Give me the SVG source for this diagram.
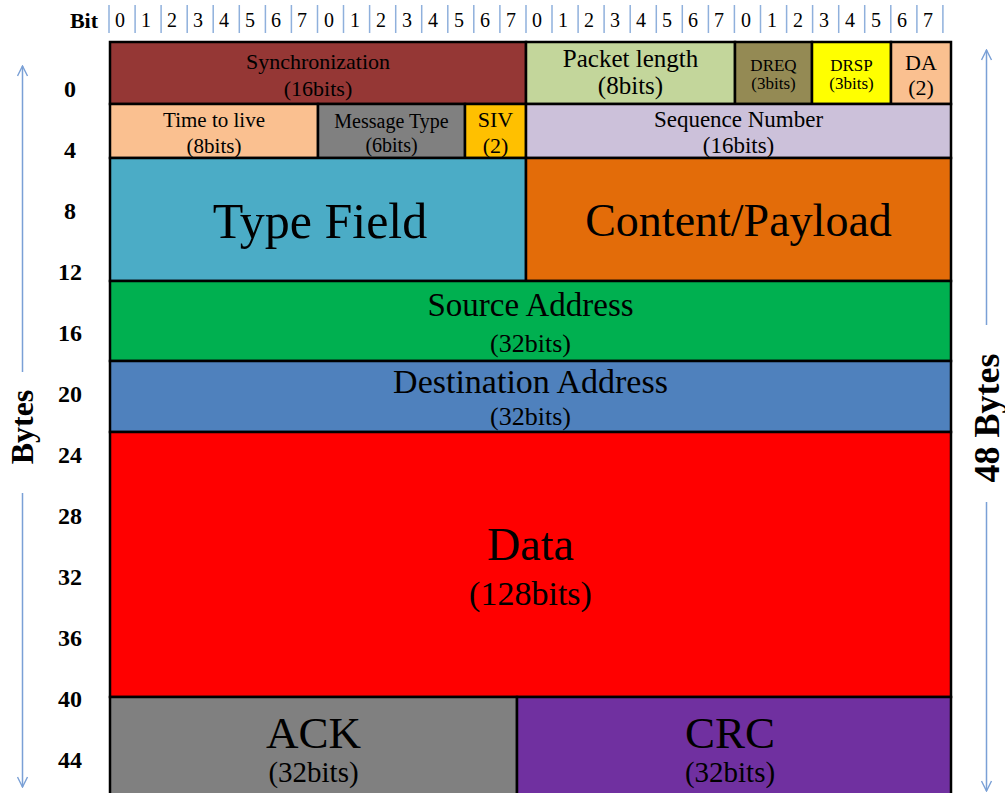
<svg xmlns="http://www.w3.org/2000/svg" width="1005" height="793" viewBox="0 0 1005 793">
  <defs>
    <marker id="arrowOpen" viewBox="0 0 12 12" refX="11" refY="6" markerWidth="12" markerHeight="12" markerUnits="userSpaceOnUse" orient="auto">
      <path d="M1,1 L11,6 L1,11" fill="none" stroke="#7aa0d6" stroke-width="1.4"/>
    </marker>
    <style>
      text { font-family: "Liberation Serif", "Times New Roman", serif; fill: #000; text-anchor: middle; }
      .hdr { font-weight: bold; }
      .bitnum { font-size: 20px; }
      .tick { stroke: #8fb0dc; stroke-width: 1.5; }
      .field { stroke: #000; stroke-width: 2.5; }
      .axis { stroke: #7aa0d6; stroke-width: 1.5; fill: none; marker-end: url(#arrowOpen); }
    </style>
  </defs>

  <rect width="1005" height="793" fill="#fff"/>

  <!-- bit ruler across the top -->
  <g id="bit-ruler">
    <text class="hdr" x="84" y="28" font-size="22">Bit</text>
    <g id="bit-ticks">
      <line class="tick" x1="109" y1="5" x2="109" y2="33"/>
      <line class="tick" x1="135.1" y1="5" x2="135.1" y2="33"/>
      <line class="tick" x1="161.1" y1="5" x2="161.1" y2="33"/>
      <line class="tick" x1="187.2" y1="5" x2="187.2" y2="33"/>
      <line class="tick" x1="213.2" y1="5" x2="213.2" y2="33"/>
      <line class="tick" x1="239.3" y1="5" x2="239.3" y2="33"/>
      <line class="tick" x1="265.4" y1="5" x2="265.4" y2="33"/>
      <line class="tick" x1="291.4" y1="5" x2="291.4" y2="33"/>
      <line class="tick" x1="317.5" y1="5" x2="317.5" y2="33"/>
      <line class="tick" x1="343.5" y1="5" x2="343.5" y2="33"/>
      <line class="tick" x1="369.6" y1="5" x2="369.6" y2="33"/>
      <line class="tick" x1="395.7" y1="5" x2="395.7" y2="33"/>
      <line class="tick" x1="421.7" y1="5" x2="421.7" y2="33"/>
      <line class="tick" x1="447.8" y1="5" x2="447.8" y2="33"/>
      <line class="tick" x1="473.8" y1="5" x2="473.8" y2="33"/>
      <line class="tick" x1="499.9" y1="5" x2="499.9" y2="33"/>
      <line class="tick" x1="526" y1="5" x2="526" y2="33"/>
      <line class="tick" x1="552" y1="5" x2="552" y2="33"/>
      <line class="tick" x1="578.1" y1="5" x2="578.1" y2="33"/>
      <line class="tick" x1="604.1" y1="5" x2="604.1" y2="33"/>
      <line class="tick" x1="630.2" y1="5" x2="630.2" y2="33"/>
      <line class="tick" x1="656.3" y1="5" x2="656.3" y2="33"/>
      <line class="tick" x1="682.3" y1="5" x2="682.3" y2="33"/>
      <line class="tick" x1="708.4" y1="5" x2="708.4" y2="33"/>
      <line class="tick" x1="734.4" y1="5" x2="734.4" y2="33"/>
      <line class="tick" x1="760.5" y1="5" x2="760.5" y2="33"/>
      <line class="tick" x1="786.6" y1="5" x2="786.6" y2="33"/>
      <line class="tick" x1="812.6" y1="5" x2="812.6" y2="33"/>
      <line class="tick" x1="838.7" y1="5" x2="838.7" y2="33"/>
      <line class="tick" x1="864.7" y1="5" x2="864.7" y2="33"/>
      <line class="tick" x1="890.8" y1="5" x2="890.8" y2="33"/>
      <line class="tick" x1="916.9" y1="5" x2="916.9" y2="33"/>
      <line class="tick" x1="942.9" y1="5" x2="942.9" y2="33"/>
    </g>
    <g id="bit-numbers" class="bitnum">
      <text class="bitnum" x="120" y="27">0</text>
      <text class="bitnum" x="146" y="27">1</text>
      <text class="bitnum" x="172" y="27">2</text>
      <text class="bitnum" x="198" y="27">3</text>
      <text class="bitnum" x="224" y="27">4</text>
      <text class="bitnum" x="250" y="27">5</text>
      <text class="bitnum" x="276" y="27">6</text>
      <text class="bitnum" x="302" y="27">7</text>
      <text class="bitnum" x="329" y="27">0</text>
      <text class="bitnum" x="355" y="27">1</text>
      <text class="bitnum" x="381" y="27">2</text>
      <text class="bitnum" x="407" y="27">3</text>
      <text class="bitnum" x="433" y="27">4</text>
      <text class="bitnum" x="459" y="27">5</text>
      <text class="bitnum" x="485" y="27">6</text>
      <text class="bitnum" x="511" y="27">7</text>
      <text class="bitnum" x="537" y="27">0</text>
      <text class="bitnum" x="563" y="27">1</text>
      <text class="bitnum" x="589" y="27">2</text>
      <text class="bitnum" x="615" y="27">3</text>
      <text class="bitnum" x="641" y="27">4</text>
      <text class="bitnum" x="667" y="27">5</text>
      <text class="bitnum" x="693" y="27">6</text>
      <text class="bitnum" x="719" y="27">7</text>
      <text class="bitnum" x="746" y="27">0</text>
      <text class="bitnum" x="772" y="27">1</text>
      <text class="bitnum" x="798" y="27">2</text>
      <text class="bitnum" x="824" y="27">3</text>
      <text class="bitnum" x="850" y="27">4</text>
      <text class="bitnum" x="876" y="27">5</text>
      <text class="bitnum" x="902" y="27">6</text>
      <text class="bitnum" x="928" y="27">7</text>
    </g>
  </g>

  <!-- byte offsets down the left side -->
  <g id="byte-offsets" class="hdr" font-size="24">
    <text class="hdr" x="70" y="97">0</text>
    <text class="hdr" x="70" y="158">4</text>
    <text class="hdr" x="70" y="219">8</text>
    <text class="hdr" x="70" y="280">12</text>
    <text class="hdr" x="70" y="341">16</text>
    <text class="hdr" x="70" y="402">20</text>
    <text class="hdr" x="70" y="463">24</text>
    <text class="hdr" x="70" y="524">28</text>
    <text class="hdr" x="70" y="585">32</text>
    <text class="hdr" x="70" y="646">36</text>
    <text class="hdr" x="70" y="707">40</text>
    <text class="hdr" x="70" y="768">44</text>
  </g>

  <!-- row 0 -->
  <g id="sync">
    <rect class="field" x="110" y="42" width="416" height="62" fill="#953735"/>
    <text x="318" y="69" font-size="22">Synchronization</text>
    <text x="318" y="96" font-size="22">(16bits)</text>
  </g>
  <g id="packet-length">
    <rect class="field" x="526" y="42" width="209" height="62" fill="#c3d69b"/>
    <text x="630.5" y="67" font-size="25">Packet length</text>
    <text x="630.5" y="94" font-size="25">(8bits)</text>
  </g>
  <g id="dreq">
    <rect class="field" x="735" y="42" width="77" height="62" fill="#948a54"/>
    <text x="773.5" y="71" font-size="17">DREQ</text>
    <text x="773.5" y="89" font-size="17">(3bits)</text>
  </g>
  <g id="drsp">
    <rect class="field" x="812" y="42" width="79" height="62" fill="#ffff00"/>
    <text x="851.5" y="71" font-size="17">DRSP</text>
    <text x="851.5" y="89" font-size="17">(3bits)</text>
  </g>
  <g id="da">
    <rect class="field" x="891" y="42" width="60" height="62" fill="#fac090"/>
    <text x="921" y="70" font-size="22">DA</text>
    <text x="921" y="95" font-size="22">(2)</text>
  </g>

  <!-- row 1 -->
  <g id="time-to-live">
    <rect class="field" x="110" y="104" width="208" height="54" fill="#fac090"/>
    <text x="214" y="127" font-size="21">Time to live</text>
    <text x="214" y="153" font-size="21">(8bits)</text>
  </g>
  <g id="message-type">
    <rect class="field" x="318" y="104" width="147" height="54" fill="#808080"/>
    <text x="391.5" y="128" font-size="20">Message Type</text>
    <text x="391.5" y="152" font-size="20">(6bits)</text>
  </g>
  <g id="siv">
    <rect class="field" x="465" y="104" width="61" height="54" fill="#ffc000"/>
    <text x="495.5" y="127" font-size="22">SIV</text>
    <text x="495.5" y="153" font-size="22">(2)</text>
  </g>
  <g id="sequence-number">
    <rect class="field" x="526" y="104" width="425" height="54" fill="#ccc1da"/>
    <text x="738.5" y="127" font-size="23">Sequence Number</text>
    <text x="738.5" y="153" font-size="23">(16bits)</text>
  </g>

  <!-- row 2 -->
  <g id="type-field">
    <rect class="field" x="110" y="158" width="416" height="123" fill="#4bacc6"/>
    <text x="320" y="238" font-size="50">Type Field</text>
  </g>
  <g id="content-payload">
    <rect class="field" x="526" y="158" width="425" height="123" fill="#e36c09"/>
    <text x="738.5" y="236" font-size="46">Content/Payload</text>
  </g>

  <!-- addresses -->
  <g id="source-address">
    <rect class="field" x="110" y="281" width="841" height="80" fill="#00b050"/>
    <text x="530.5" y="316" font-size="33">Source Address</text>
    <text x="530.5" y="352" font-size="26">(32bits)</text>
  </g>
  <g id="destination-address">
    <rect class="field" x="110" y="361" width="841" height="71" fill="#4f81bd"/>
    <text x="530.5" y="393" font-size="34">Destination Address</text>
    <text x="530.5" y="425" font-size="26">(32bits)</text>
  </g>

  <!-- payload data -->
  <g id="data">
    <rect class="field" x="110" y="432" width="841" height="265" fill="#ff0000"/>
    <text x="530.5" y="560" font-size="46">Data</text>
    <text x="530.5" y="605" font-size="34">(128bits)</text>
  </g>

  <!-- trailer -->
  <g id="ack">
    <rect class="field" x="110" y="697" width="407" height="110" fill="#808080"/>
    <text x="313.5" y="748" font-size="45">ACK</text>
    <text x="313.5" y="782" font-size="29">(32bits)</text>
  </g>
  <g id="crc">
    <rect class="field" x="517" y="697" width="434" height="110" fill="#7030a0"/>
    <text x="730" y="748" font-size="45">CRC</text>
    <text x="730" y="782" font-size="29">(32bits)</text>
  </g>

  <!-- dimension arrows and side labels -->
  <g id="connectors">
    <line class="axis" x1="22.5" y1="372" x2="22.5" y2="66"/>
    <line class="axis" x1="22.5" y1="493" x2="22.5" y2="787"/>
    <line class="axis" x1="986.5" y1="325" x2="986.5" y2="50"/>
    <line class="axis" x1="986.5" y1="502" x2="986.5" y2="791"/>
  </g>
  <g id="side-labels">
    <text class="hdr" transform="translate(33 427) rotate(-90)" font-size="32">Bytes</text>
    <text class="hdr" transform="translate(999 418) rotate(-90)" font-size="36">48 Bytes</text>
  </g>
</svg>
